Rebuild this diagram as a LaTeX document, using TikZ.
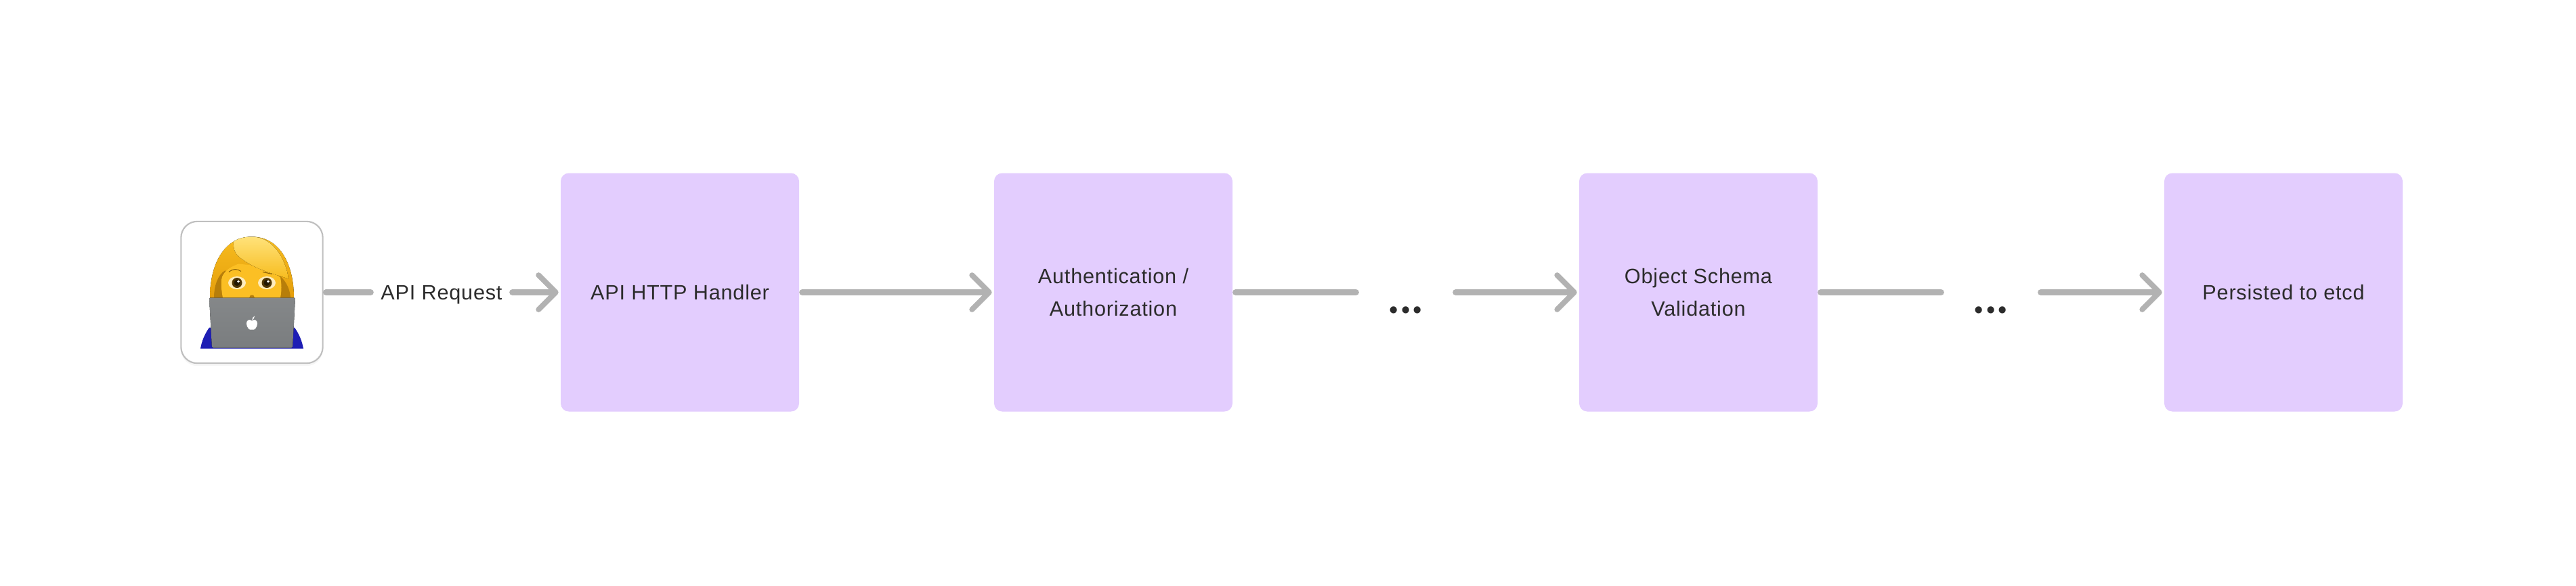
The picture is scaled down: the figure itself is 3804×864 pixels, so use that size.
\documentclass[tikz,border=0pt]{standalone}
\usepackage{fontspec}
\setmainfont[LetterSpace=2.5]{Liberation Sans}
\newfontfamily\dotsfont{Poppins}
\usetikzlibrary{arrows.meta,positioning,shadows}
\definecolor{stage}{HTML}{E3CDFE}
\definecolor{flow}{HTML}{B2B2B2}
\definecolor{ink}{HTML}{2C2C2C}
\definecolor{hairtop}{HTML}{FFE27A}
\definecolor{hairmid}{HTML}{F7BC1E}
\definecolor{hairlow}{HTML}{E59E0C}
\definecolor{skin}{HTML}{FBBF24}
\definecolor{lid}{HTML}{7A7D7F}
\definecolor{sleeve}{HTML}{1E1EB4}
\tikzset{
	every node/.style={outer sep=0pt},
	stagebox/.style={fill=stage, rounded corners=9pt, minimum width=264pt, minimum height=264pt, inner sep=0pt, align=center, text=ink, font=\fontsize{23}{36}\selectfont},
	tag/.style={text=ink, inner sep=0pt, minimum width=150pt, text height=17pt, text depth=0pt, font=\fontsize{23}{28}\selectfont},
	gap/.style={text=ink, inner sep=0pt, minimum width=103.5pt, text height=47pt, text depth=0pt, font=\dotsfont\fontsize{62}{62}\selectfont},
	flowline/.style={draw=flow, line width=6.75pt, line cap=round, shorten <=3.5pt, shorten >=3.5pt},
	flowarrow/.style={flowline, shorten >=2.5pt, -{Straight Barb[length=19pt,width=38pt,line width=6pt,round]}},
}
\begin{document}
\begin{tikzpicture}[x=0.75pt, y=-0.75pt]
	\useasboundingbox (0,0) rectangle (3804,864);

	\node[draw=black!25, line width=1.6pt, fill=white, rounded corners=18pt, minimum width=157pt, minimum height=157pt, drop shadow={opacity=0.07, shadow xshift=0pt, shadow yshift=-3pt}] (user) at (372,431.5) {};

	\node[tag, right=56.5pt of user] (req) {API Request};
	\node[stagebox, right=57pt of req] (handler) {API HTTP Handler};
	\node[stagebox, right=216pt of handler] (authn) {Authentication /\\Authorization};
	\node[gap, right=140.25pt of authn] (gapa) {...};
	\node[stagebox, right=140.25pt of gapa] (schema) {Object Schema\\Validation};
	\node[gap, right=140.25pt of schema] (gapb) {...};
	\node[stagebox, right=140.25pt of gapb] (etcd) {Persisted to etcd};

	\draw[flowline] (user) -- (req);
	\draw[flowarrow] (req) -- (handler);
	\draw[flowarrow] (handler) -- (authn);
	\draw[flowline] (authn) -- (gapa);
	\draw[flowarrow] (gapa) -- (schema);
	\draw[flowline] (schema) -- (gapb);
	\draw[flowarrow] (gapb) -- (etcd);

	% the person behind the laptop
	\begin{scope}[shift={(user.center)}]
		\fill[sleeve] (-63,52) .. controls (-70,62) and (-74,72) .. (-76,83) -- (76,83) .. controls (74,72) and (70,62) .. (63,52) -- cycle;
		\fill[top color=hairmid, bottom color=hairlow] (-62,8) .. controls (-62,-40) and (-42,-82) .. (0,-82) .. controls (42,-82) and (62,-40) .. (62,8) -- cycle;
		\fill[hairlow!80!black] (-56,8) .. controls (-56,-10) and (-50,-26) .. (-40,-32) -- (42,-24) .. controls (52,-14) and (56,-4) .. (57,8) -- cycle;
		\fill[skin] (-43,8) .. controls (-46,-8) and (-46,-20) .. (-43,-25) .. controls (-38,-34) and (-30,-38) .. (-20,-42) -- (20,-38) -- (42,-22) .. controls (44,-12) and (44,-2) .. (42,8) -- cycle;
		\fill[top color=hairtop, bottom color=hairmid] (-27,-75) .. controls (-28,-60) and (-22,-54) .. (-13,-48) .. controls (6,-34) and (30,-28) .. (54,-20) .. controls (50,-50) and (30,-82) .. (0,-82) .. controls (-10,-82) and (-20,-80) .. (-27,-75) -- cycle;
		\draw[hairlow!60!black, line width=0.8pt] (-34,-30) .. controls (-28,-35) and (-22,-35) .. (-16,-31);
		\draw[hairlow!60!black, line width=0.8pt] (16,-30) -- (30,-27);
		\foreach \eyex in {-22,22} {
			\fill[white!70!skin] (\eyex,-14) ellipse (13 and 9.5);
			\fill[black!65!hairlow] (\eyex,-14) ellipse (7.5 and 7.5);
			\fill[black!85!hairlow] (\eyex,-14) circle (4.5);
			\fill[white] (\eyex+2,-16) circle (1.8);
		}
		\fill[hairlow!80!black] (-2,4) -- (2,4) -- (4,8) -- (-4,8) -- cycle;
		\fill[top color=lid!92!white, bottom color=lid, rounded corners=1.5pt] (-63,8) -- (64,8) -- (60,82) -- (-59,82) -- cycle;
		\fill[white] (0,42) .. controls (-4,39) and (-8,41) .. (-8,46) .. controls (-8,51) and (-4,57) .. (0,55) .. controls (4,57) and (8,51) .. (8,46) .. controls (8,41) and (4,39) .. (0,42) -- cycle;
		\fill[white] (0,41) .. controls (0,38) and (2,36) .. (4,35) .. controls (4,38) and (2,40) .. (0,41) -- cycle;
	\end{scope}
\end{tikzpicture}
\end{document}
